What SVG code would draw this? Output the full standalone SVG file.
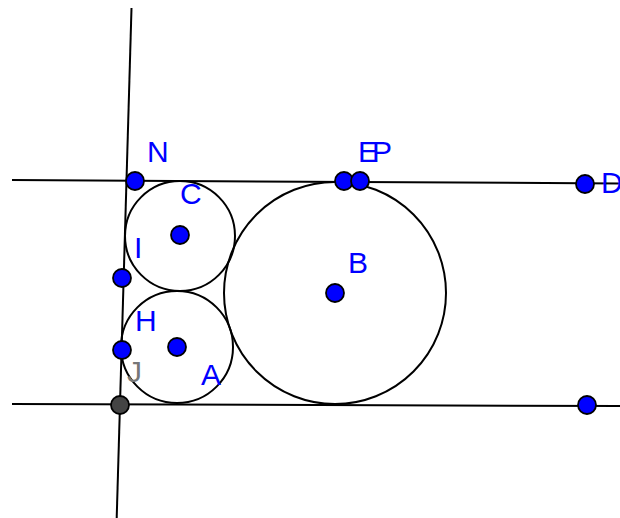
<svg xmlns="http://www.w3.org/2000/svg" width="620" height="518" viewBox="0 0 620 518">
<style>
.ln{stroke:#000;stroke-width:2;fill:none}
.c{stroke:#000;stroke-width:2;fill:none}
.pt{fill:#0000ff;stroke:#000;stroke-width:1.8}
.pd{fill:#444;stroke:#000;stroke-width:1.8}
.lb{font-family:"Liberation Sans",Arial,sans-serif;font-size:30px;fill:#0000ff}
.lg{font-family:"Liberation Sans",Arial,sans-serif;font-size:30px;fill:#777}
</style>
<rect width="620" height="518" fill="#fff"/>
<g id="connectors">
<line class="ln" x1="131.5" y1="8" x2="116.7" y2="518"/>
<line class="ln" x1="12" y1="180" x2="620" y2="183.5"/>
<line class="ln" x1="12" y1="404" x2="620" y2="406"/>
<circle class="c" cx="180" cy="236" r="55"/>
<circle class="c" cx="177" cy="347" r="56"/>
<circle class="c" cx="335" cy="293" r="111"/>
</g>
<g id="N"><circle class="pt" cx="135" cy="181" r="9"/><text class="lb" x="147" y="162">N</text></g>
<g id="C"><circle class="pt" cx="180" cy="235" r="9"/><text class="lb" x="180" y="204">C</text></g>
<g id="I"><circle class="pt" cx="122" cy="278" r="9"/><text class="lb" x="134" y="258">I</text></g>
<g id="H"><circle class="pt" cx="122" cy="350" r="9"/><text class="lb" x="135" y="331">H</text></g>
<g id="A"><circle class="pt" cx="177" cy="347" r="9"/><text class="lb" x="201" y="385">A</text></g>
<g id="B"><circle class="pt" cx="335" cy="293" r="9"/><text class="lb" x="348" y="273">B</text></g>
<g id="E"><circle class="pt" cx="344" cy="181" r="9"/><text class="lb" x="358" y="162">E</text></g>
<g id="P"><circle class="pt" cx="360" cy="181" r="9"/><text class="lb" x="372" y="162">P</text></g>
<g id="D"><circle class="pt" cx="585" cy="184" r="9"/><text class="lb" x="601" y="193">D</text></g>
<g id="J"><circle class="pd" cx="120" cy="405" r="9"/><text class="lg" x="127" y="382">J</text></g>
<g id="F"><circle class="pt" cx="587" cy="405" r="9"/></g>
</svg>
